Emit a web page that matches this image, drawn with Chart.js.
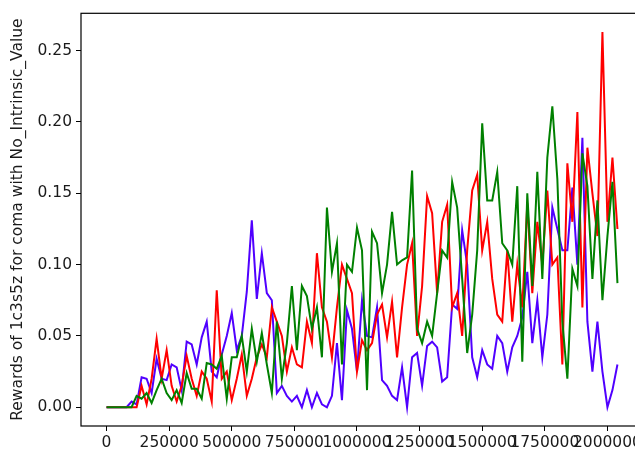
<!DOCTYPE html>
<html lang="en">
<head>
    <meta charset="UTF-8">
    <title>Rewards of 1c3s5z for coma</title>
    <style>
        body {
            margin: 0;
            background-color: #fff;
            overflow: hidden;
        }
        .wrap {
            width: 660px;
            height: 457px;
        }
    </style>
</head>
<body>
    <div class="wrap">
        <canvas id="rewardChart" width="660" height="457"></canvas>
    </div>

    <script src="https://cdn.jsdelivr.net/npm/chart.js"></script>
    <script>
        // one sample every 20000 environment steps, 0 .. 2040000
        const stepSize = 20000;
        const sampleCount = 103;

        const redRewards = [
            0, 0, 0, 0, 0, 0, 0, 0.015, 0.002, 0.02,
            0.048, 0.02, 0.04, 0.015, 0.004, 0.015, 0.036, 0.02, 0.008, 0.025,
            0.02, 0.004, 0.082, 0.02, 0.025, 0.005, 0.02, 0.037, 0.008, 0.02,
            0.035, 0.044, 0.035, 0.07, 0.06, 0.05, 0.025, 0.042, 0.03, 0.028,
            0.06, 0.045, 0.108, 0.07, 0.06, 0.035, 0.07, 0.1, 0.09, 0.08,
            0.025, 0.047, 0.04, 0.045, 0.065, 0.072, 0.049, 0.074, 0.035, 0.07,
            0.1, 0.115, 0.05, 0.085, 0.148, 0.136, 0.08, 0.13, 0.142, 0.07,
            0.08, 0.05, 0.11, 0.152, 0.163, 0.11, 0.13, 0.09, 0.065, 0.06,
            0.11, 0.06, 0.1, 0.07, 0.143, 0.08, 0.13, 0.1, 0.152, 0.1,
            0.105, 0.03, 0.171, 0.13, 0.207, 0.07, 0.182, 0.15, 0.12, 0.263,
            0.13, 0.175, 0.125
        ];

        const greenRewards = [
            0, 0, 0, 0, 0, 0, 0.008, 0.006, 0.01, 0.003,
            0.012, 0.02, 0.01, 0.005, 0.012, 0.003, 0.024, 0.013, 0.013, 0.006,
            0.031, 0.03, 0.027, 0.036, 0.006, 0.035, 0.035, 0.05, 0.025, 0.055,
            0.032, 0.052, 0.03, 0.01, 0.06, 0.02, 0.045, 0.085, 0.04, 0.085,
            0.078, 0.055, 0.07, 0.035, 0.14, 0.095, 0.115, 0.03, 0.1, 0.095,
            0.126, 0.11, 0.012, 0.123, 0.115, 0.08, 0.1, 0.137, 0.1, 0.103,
            0.105, 0.166, 0.055, 0.045, 0.06, 0.05, 0.08, 0.11, 0.105, 0.158,
            0.14, 0.09, 0.038, 0.065, 0.11, 0.199, 0.145, 0.145, 0.165, 0.115,
            0.11, 0.1, 0.155, 0.032, 0.15, 0.085, 0.165, 0.09, 0.175, 0.211,
            0.16, 0.06, 0.02, 0.097, 0.085, 0.178, 0.155, 0.09, 0.145, 0.075,
            0.12, 0.158, 0.087
        ];

        const blueRewards = [
            0, 0, 0, 0, 0, 0.004, 0.002, 0.021, 0.02, 0.01,
            0.034, 0.02, 0.019, 0.03, 0.028, 0.012, 0.046, 0.044, 0.03, 0.049,
            0.06, 0.025, 0.021, 0.037, 0.05, 0.066, 0.04, 0.05, 0.081, 0.131,
            0.076, 0.108, 0.08, 0.075, 0.01, 0.015, 0.008, 0.004, 0.008, 0.0,
            0.012, 0.0, 0.01, 0.002, 0.0, 0.008, 0.045, 0.005, 0.068, 0.055,
            0.025, 0.075, 0.05, 0.049, 0.07, 0.019, 0.015, 0.008, 0.005, 0.028,
            0.0, 0.035, 0.038, 0.015, 0.043, 0.046, 0.042, 0.018, 0.021, 0.072,
            0.069, 0.124, 0.1, 0.035, 0.021, 0.04, 0.03, 0.027, 0.05, 0.045,
            0.025, 0.042, 0.05, 0.063, 0.095, 0.045, 0.075, 0.035, 0.065, 0.14,
            0.125, 0.11, 0.11, 0.154, 0.1, 0.189, 0.06, 0.025, 0.06, 0.025,
            0.0, 0.012, 0.03
        ];

        const xTicks = [0, 250000, 500000, 750000, 1000000, 1250000, 1500000, 1750000, 2000000];
        const yTicks = [0, 0.05, 0.1, 0.15, 0.2, 0.25];

        const steps = [];
        for (let i = 0; i < sampleCount; i++) {
            steps.push(i * stepSize);
        }

        function toPoints(values) {
            return values.map((v, i) => ({ x: steps[i], y: v }));
        }

        const tickFont = { family: 'DejaVu Sans', size: 15.5 };
        const textColor = '#1a1a1a';

        // axes box on all four sides
        const frame = {
            id: 'frame',
            afterDraw(chart) {
                const a = chart.chartArea;
                const ctx = chart.ctx;
                ctx.save();
                ctx.strokeStyle = '#000';
                ctx.lineWidth = 1.2;
                ctx.strokeRect(a.left, a.top, a.right - a.left, a.bottom - a.top);
                ctx.restore();
            }
        };

        const lineStyle = {
            borderWidth: 2,
            pointRadius: 0,
            tension: 0,
            fill: false
        };

        new Chart(document.getElementById('rewardChart'), {
            type: 'line',
            data: {
                datasets: [
                    Object.assign({ label: 'green', data: toPoints(greenRewards), borderColor: '#008000' }, lineStyle),
                    Object.assign({ label: 'red', data: toPoints(redRewards), borderColor: '#ff0000' }, lineStyle),
                    Object.assign({ label: 'blue', data: toPoints(blueRewards), borderColor: '#5000ff' }, lineStyle)
                ]
            },
            options: {
                responsive: false,
                animation: false,
                layout: { padding: { top: 8, right: 17, left: 0, bottom: 0 } },
                plugins: {
                    legend: { display: false },
                    tooltip: { enabled: false }
                },
                scales: {
                    x: {
                        type: 'linear',
                        min: -102000,
                        max: 2142000,
                        afterBuildTicks: scale => {
                            scale.ticks = xTicks.map(v => ({ value: v }));
                        },
                        afterFit: scale => { scale.height = 31; },
                        border: { display: false },
                        grid: {
                            drawOnChartArea: false,
                            drawTicks: true,
                            tickLength: 5,
                            color: '#000'
                        },
                        ticks: {
                            autoSkip: false,
                            maxRotation: 0,
                            padding: 3,
                            color: textColor,
                            font: tickFont,
                            callback: v => String(v)
                        }
                    },
                    y: {
                        min: -0.01315,
                        max: 0.2762,
                        afterBuildTicks: scale => {
                            scale.ticks = yTicks.map(v => ({ value: v }));
                        },
                        afterFit: scale => { scale.width = 81; },
                        border: { display: false },
                        grid: {
                            drawOnChartArea: false,
                            drawTicks: true,
                            tickLength: 5,
                            color: '#000'
                        },
                        ticks: {
                            padding: 4,
                            color: textColor,
                            font: tickFont,
                            callback: v => Number(v).toFixed(2)
                        },
                        title: {
                            display: true,
                            text: 'Rewards of 1c3s5z for coma with No_Intrinsic_Value',
                            color: textColor,
                            font: { family: 'DejaVu Sans', size: 15.5 },
                            padding: { top: 9, bottom: 0 }
                        }
                    }
                }
            },
            plugins: [frame]
        });
    </script>
</body>
</html>
